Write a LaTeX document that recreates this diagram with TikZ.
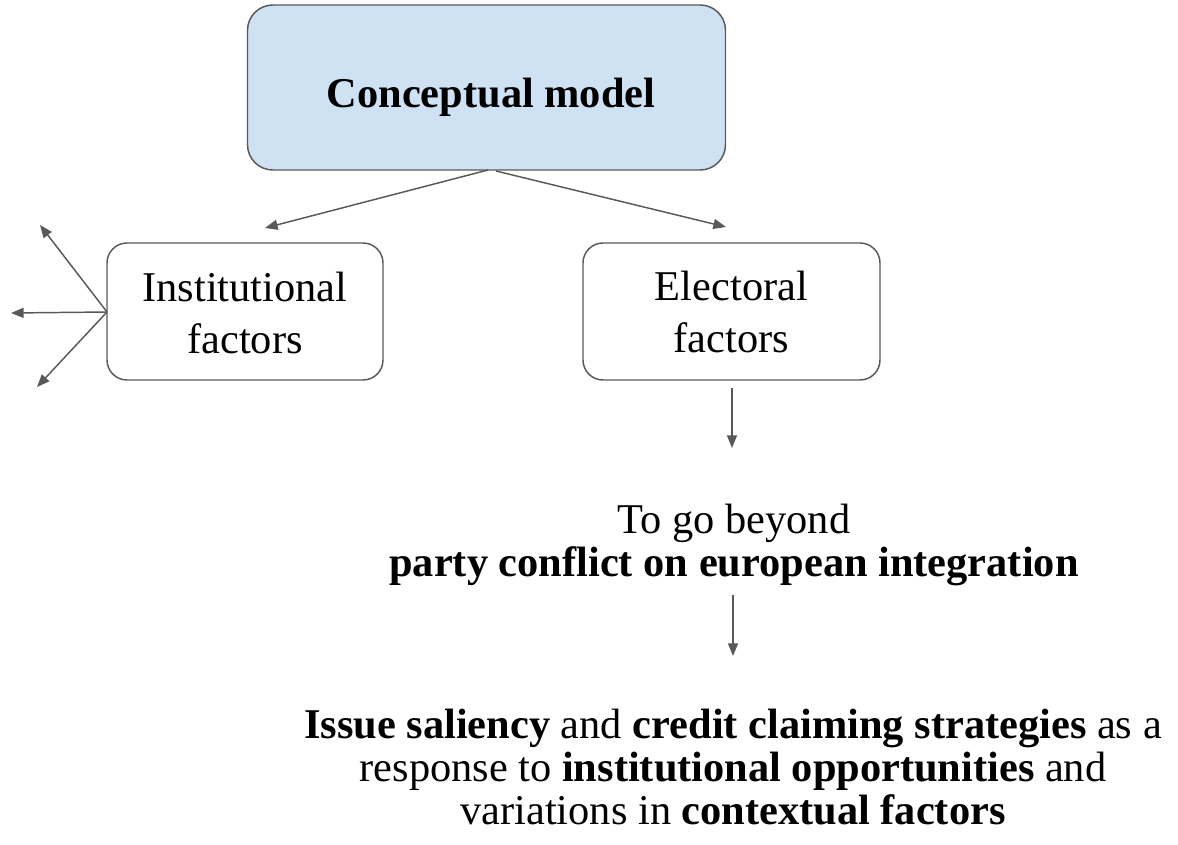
\documentclass[tikz,border=0pt]{standalone}
\usepackage{fontspec}
\setmainfont{Liberation Serif}
\usetikzlibrary{arrows.meta}
\definecolor{edge}{HTML}{595959}
\definecolor{modelfill}{HTML}{CFE2F3}
\tikzset{
  base/.style={font=\fontsize{31.8}{32.4}\selectfont, align=center, text=black},
  boxtext/.style={font=\fontsize{31.8}{38.4}\selectfont, align=center, text=black},
  box/.style={draw=edge, line width=1.1pt, rectangle},
  arr/.style={draw=edge, line width=1.1pt, -{Triangle[length=9.5pt,width=7.5pt]}}
}
\begin{document}
\begin{tikzpicture}[x=0.75pt,y=-0.75pt]
\useasboundingbox (0,0) rectangle (1178,845);
% boxes
\node[box, fill=modelfill, minimum width=358.5pt, minimum height=123.75pt, rounded corners=19pt]
  (model) at (486.5,87.5) {};
\node[base] (modeltext) at (491,97) {\textbf{Conceptual model}};
\node[box, fill=white, minimum width=207pt, minimum height=102.75pt, rounded corners=15pt]
  (inst) at (245,311.5) {};
\node[boxtext] (insttext) at (245,313) {Institutional\\factors};
\node[box, fill=white, minimum width=222.75pt, minimum height=102.75pt, rounded corners=15pt]
  (elec) at (731.5,311.5) {};
\node[boxtext] (electext) at (731.5,312) {Electoral\\factors};
% text blocks
\node[base] (beyond) at (734,545) {To go beyond\\\textbf{party conflict on european integration}};
\node[base] (result) at (733,767) {\textbf{Issue saliency} and \textbf{credit claiming strategies} as a\\
  response to \textbf{institutional opportunities} and\\
  variations in \textbf{contextual factors}};
% free arrow ends
\coordinate (mL) at (488,170);
\coordinate (mR) at (496,171);
\coordinate (toL) at (265,228);
\coordinate (toR) at (726,227);
\coordinate (iw) at (107,312);
\coordinate (up) at (40,225);
\coordinate (left) at (11,313);
\coordinate (down) at (37,387);
\coordinate (eb) at (732,388);
\coordinate (ee) at (732,448);
\coordinate (bb) at (733,595);
\coordinate (be) at (733,656);
% connectors
\draw[arr] (mL) -- (toL);
\draw[arr] (mR) -- (toR);
\draw[arr] (iw) -- (up);
\draw[arr] (iw) -- (left);
\draw[arr] (iw) -- (down);
\draw[arr] (eb) -- (ee);
\draw[arr] (bb) -- (be);
\end{tikzpicture}
\end{document}
